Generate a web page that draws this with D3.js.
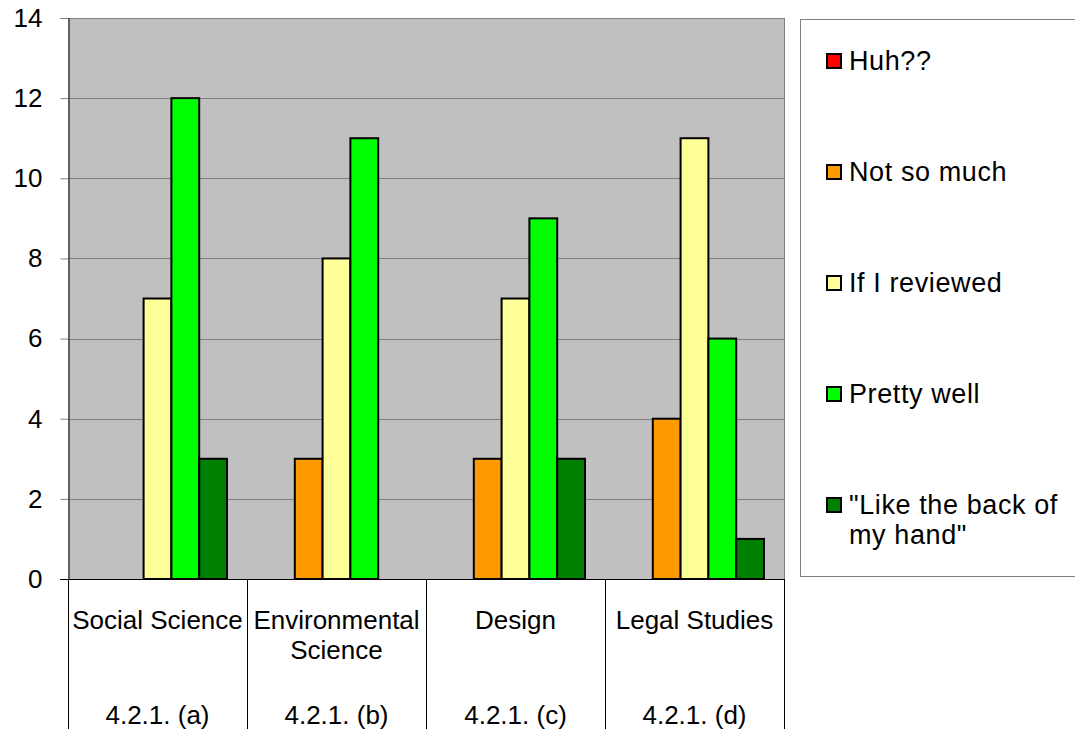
<!DOCTYPE html>
<html>
<head>
<meta charset="utf-8">
<script src="https://cdn.jsdelivr.net/npm/d3@7"></script>
<style>
  html, body { margin: 0; padding: 0; background: #fff; }
  svg { display: block; font-family: "Liberation Sans", Arial, sans-serif; }
</style>
</head>
<body>
<svg id="chart" width="1075" height="729"></svg>
<script>
// Category names (two-line where wrapped) and their section codes
const categories = ["Social Science", "Environmental Science", "Design", "Legal Studies"];
const categoryLines = [["Social Science"], ["Environmental", "Science"], ["Design"], ["Legal Studies"]];
const sectionCodes = ["4.2.1. (a)", "4.2.1. (b)", "4.2.1. (c)", "4.2.1. (d)"];

// Response series
const seriesNames = ["Huh??", "Not so much", "If I reviewed", "Pretty well", "\"Like the back of my hand\""];
const seriesColors = ["#FF0000", "#FF9900", "#FFFF99", "#00FF00", "#008000"];

// Counts per category, one array per series
const huh        = [0, 0, 0, 0];
const notSoMuch  = [0, 3, 3, 4];
const ifReviewed = [7, 8, 7, 11];
const prettyWell = [12, 11, 9, 6];
const backOfHand = [3, 0, 3, 1];
const seriesValues = [huh, notSoMuch, ifReviewed, prettyWell, backOfHand];

const yTicks = [0, 2, 4, 6, 8, 10, 12, 14];

const svg = d3.select("#chart");
const plot = { left: 68, right: 784, top: 18, bottom: 579 };

const x0 = d3.scaleBand().domain(categories).range([plot.left, plot.right]).padding(0);
const x1 = d3.scaleBand().domain(seriesNames).range([0, x0.bandwidth()])
  .paddingInner(0).paddingOuter(0.72);
const y = d3.scaleLinear().domain([0, 14]).range([plot.bottom, plot.top]);

// Plot background
svg.append("rect")
  .attr("x", plot.left).attr("y", plot.top)
  .attr("width", plot.right - plot.left).attr("height", plot.bottom - plot.top)
  .attr("fill", "#C0C0C0");

// Gridlines
svg.append("g").selectAll("line").data(yTicks.filter(d => d > 0)).join("line")
  .attr("x1", plot.left).attr("x2", plot.right)
  .attr("y1", d => Math.round(y(d)) + 0.5).attr("y2", d => Math.round(y(d)) + 0.5)
  .attr("stroke", "#808080").attr("stroke-width", 1);

// Right border of the plot area
svg.append("line")
  .attr("x1", plot.right + 0.5).attr("x2", plot.right + 0.5)
  .attr("y1", plot.top).attr("y2", plot.bottom)
  .attr("stroke", "#808080");

// Bars
const groups = svg.append("g").selectAll("g").data(categories).join("g")
  .attr("transform", c => `translate(${x0(c)},0)`);
groups.selectAll("rect")
  .data((c, i) => seriesNames.map((s, j) => ({ s, j, v: seriesValues[j][i] })).filter(d => d.v > 0))
  .join("rect")
  .attr("x", d => x1(d.s))
  .attr("y", d => y(d.v))
  .attr("width", x1.bandwidth())
  .attr("height", d => y(0) - y(d.v))
  .attr("fill", d => seriesColors[d.j])
  .attr("stroke", "#000").attr("stroke-width", 2);

// Y axis
const yAxis = d3.axisLeft(y).tickValues(yTicks).tickSize(8).tickPadding(18).tickFormat(d3.format("d"));
const yg = svg.append("g").attr("transform", `translate(${plot.left + 0.5},0)`).call(yAxis);
yg.select(".domain").attr("stroke", "#000");
yg.selectAll(".tick line").attr("stroke", "#808080");
yg.selectAll(".tick text").attr("font-size", 26).attr("fill", "#000")
  .attr("font-family", "Liberation Sans, Arial, sans-serif");

// Zero baseline
svg.append("line")
  .attr("x1", plot.left - 8).attr("x2", plot.right)
  .attr("y1", plot.bottom + 0.5).attr("y2", plot.bottom + 0.5)
  .attr("stroke", "#000");

// Category separators below the axis
const seps = categories.map(c => x0(c)).concat([plot.right]);
svg.append("g").selectAll("line").data(seps).join("line")
  .attr("x1", d => Math.round(d) + 0.5).attr("x2", d => Math.round(d) + 0.5)
  .attr("y1", plot.bottom).attr("y2", 729)
  .attr("stroke", "#000");

// Category labels and section codes
const labels = svg.append("g").attr("font-size", 26).attr("fill", "#000").attr("text-anchor", "middle");
categories.forEach((c, i) => {
  const cx = x0(c) + x0.bandwidth() / 2;
  categoryLines[i].forEach((line, k) => {
    labels.append("text").attr("x", cx).attr("y", 629 + k * 30).text(line);
  });
  labels.append("text").attr("x", cx).attr("y", 724).text(sectionCodes[i]);
});

// Legend
svg.append("rect")
  .attr("x", 800.5).attr("y", 19.5).attr("width", 290).attr("height", 557)
  .attr("fill", "#fff").attr("stroke", "#808080");
const legendY = [61, 172, 283, 394, 505];
const lg = svg.append("g");
seriesNames.forEach((s, j) => {
  lg.append("rect")
    .attr("x", 827).attr("y", legendY[j] - 7).attr("width", 14).attr("height", 14)
    .attr("fill", seriesColors[j]).attr("stroke", "#000").attr("stroke-width", 2);
});
const legendLines = [["Huh??"], ["Not so much"], ["If I reviewed"], ["Pretty well"], ["\"Like the back of", "my hand\""]];
legendLines.forEach((lines, j) => {
  lines.forEach((t, k) => {
    lg.append("text").attr("x", 849).attr("y", legendY[j] + 9 + k * 30)
      .attr("font-size", 27).attr("letter-spacing", 0.6).attr("fill", "#000").text(t);
  });
});
</script>
</body>
</html>
